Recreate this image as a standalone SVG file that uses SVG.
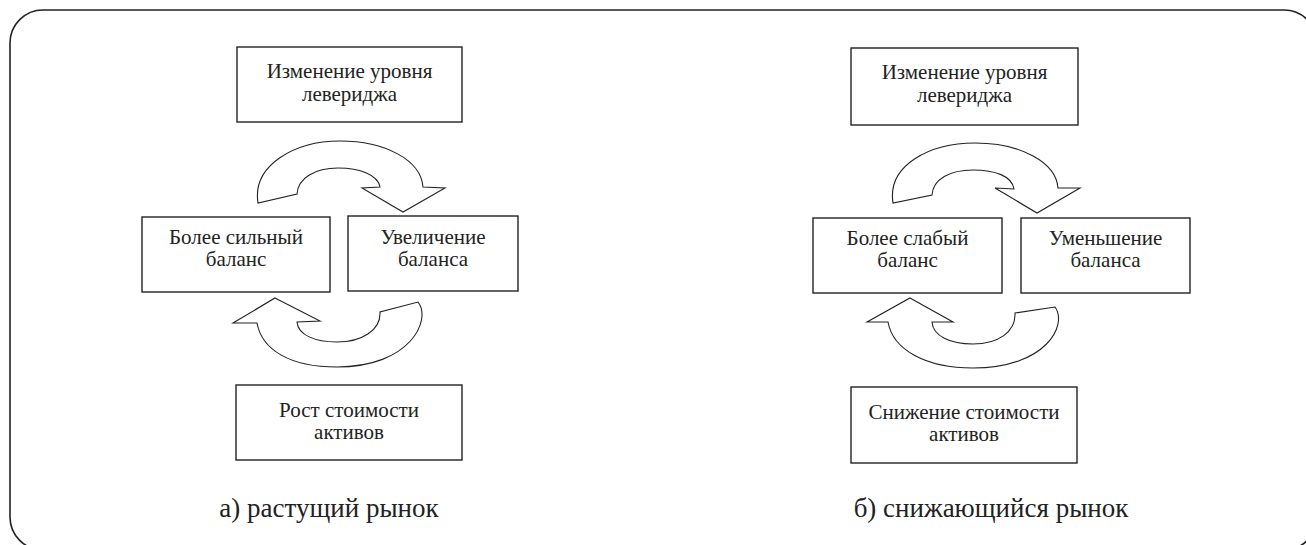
<svg xmlns="http://www.w3.org/2000/svg" width="1306" height="545" viewBox="0 0 1306 545">
<style>
.frame{fill:none;stroke:#222;stroke-width:1.6}
.box{fill:#fff;stroke:#222;stroke-width:1.4}
.arr{fill:#fff;stroke:#222;stroke-width:1.1;stroke-linejoin:miter}
</style>
<rect width="1306" height="545" fill="#fff"/>
<rect class="frame" x="10" y="10" width="1307" height="540" rx="33" ry="33"/>

<g id="connectors">
  <path class="arr" d="M 258 203 C 252 165, 295 141, 340 141 C 385 141, 421 160, 423 187 L 445 188 L 403 212 L 362 188 L 380 187 C 378 175, 360 168, 338 168 C 315 168, 298 178, 297 194 Z"/>
  <path class="arr" d="M 275 298 L 320 321 L 297 322 C 298 335, 315 342, 337 342 C 362 342, 381 330, 380 312 L 418 302 C 432 320, 410 367, 337 367 C 290 367, 262 350, 257 323 L 233 323 Z"/>
  <path class="arr" d="M 893 203 C 887 165, 930 143, 975 143 C 1020 143, 1056 162, 1058 188 L 1080 188 L 1037 213 L 995 188 L 1014 189 C 1012 176, 995 170, 973 170 C 950 170, 933 179, 932 195 Z"/>
  <path class="arr" d="M 910 298 L 953 322 L 932 322 C 933 336, 950 344, 973 344 C 998 344, 1016 332, 1015 313 L 1055 307 C 1068 325, 1046 368, 973 368 C 926 368, 893 350, 888 322 L 867 322 Z"/>
</g>

<g font-family="'Liberation Serif', 'Times New Roman', Times, Tinos, 'Noto Serif', 'DejaVu Serif', FreeSerif, serif" fill="#222" text-anchor="middle" font-size="21">
<g id="a-top"><rect class="box" x="237" y="47" width="225" height="75"/><text x="349.5" y="78">Изменение уровня</text><text x="349.5" y="101">левериджа</text></g>
<g id="a-left"><rect class="box" x="142" y="217" width="188" height="75"/><text x="236" y="244">Более сильный</text><text x="236" y="266">баланс</text></g>
<g id="a-right"><rect class="box" x="348" y="216" width="170" height="75"/><text x="433" y="244">Увеличение</text><text x="433" y="266">баланса</text></g>
<g id="a-bottom"><rect class="box" x="236" y="385" width="226" height="75"/><text x="349" y="417">Рост стоимости</text><text x="349" y="439">активов</text></g>
<g id="a-caption"><text x="329" y="517" font-size="27">а) растущий рынок</text></g>

<g id="b-top"><rect class="box" x="851" y="48" width="227" height="77"/><text x="964.5" y="79">Изменение уровня</text><text x="964.5" y="102">левериджа</text></g>
<g id="b-left"><rect class="box" x="813" y="218" width="189" height="75"/><text x="907.5" y="245">Более слабый</text><text x="907.5" y="267">баланс</text></g>
<g id="b-right"><rect class="box" x="1021" y="218" width="169" height="75"/><text x="1105.5" y="245">Уменьшение</text><text x="1105.5" y="267">баланса</text></g>
<g id="b-bottom"><rect class="box" x="851" y="387" width="226" height="76"/><text x="964" y="419">Снижение стоимости</text><text x="964" y="441">активов</text></g>
<g id="b-caption"><text x="991" y="517" font-size="27">б) снижающийся рынок</text></g>
</g>
</svg>
